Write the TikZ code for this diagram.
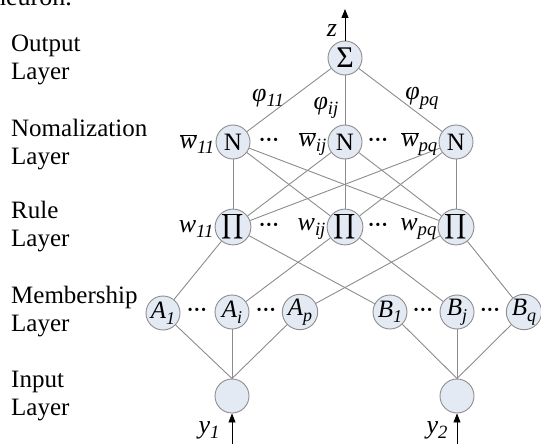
\documentclass[tikz,border=0pt]{standalone}
\usepackage{graphicx}
\usepackage{fontspec}
\setmainfont{Liberation Serif}
\usetikzlibrary{arrows.meta}
\definecolor{nodefill}{RGB}{228,234,244}
\definecolor{edgegray}{RGB}{140,140,140}
\newcommand{\sbs}[1]{\raisebox{-0.22em}{\scalebox{0.72}{\itshape #1}}}
\newcommand{\wbar}{\ensuremath{\overline{\hbox{\itshape w}}}}
\newcommand{\bigprod}{\raisebox{1.5pt}{\scalebox{1.75}{$\displaystyle\prod$}}}
\begin{document}
\begin{tikzpicture}[x=1pt,y=-1pt,
  neuron/.style={circle,draw=edgegray,fill=nodefill,minimum size=34pt,inner sep=0pt,line width=0.9pt},
  conn/.style={draw=edgegray,line width=0.9pt},
  layerlbl/.style={anchor=west,align=left,font=\fontsize{25}{28}\selectfont,inner sep=0pt},
  lbl/.style={font=\fontsize{26}{26}\selectfont\itshape,inner sep=0pt},
  inlbl/.style={font=\fontsize{25}{25}\selectfont\itshape,inner sep=0pt},
  dotsty/.style={font=\fontsize{20}{20}\selectfont\bfseries,inner sep=0pt},
  inarrow/.style={draw=black,line width=0.9pt,-{Triangle[length=9pt,width=7pt]}}]

\useasboundingbox (0,0) rectangle (541,444);
\clip (0,0) rectangle (541,444);

% fragment of surrounding text
\node[anchor=base east,font=\fontsize{26}{26}\selectfont,inner sep=0pt] (frag) at (72,6) {neuron.};

% layer labels
\node[layerlbl] (Lout) at (11,60) {Output\\Layer};
\node[layerlbl] (Lnorm) at (11,145) {Nomalization\\Layer};
\node[layerlbl] (Lrule) at (11,227) {Rule\\Layer};
\node[layerlbl] (Lmem) at (11,312) {Membership\\Layer};
\node[layerlbl] (Lin) at (11,396) {Input\\Layer};

% nodes
\node[neuron,font=\fontsize{30}{30}\selectfont] (S) at (345,58) {Σ};
\node[neuron,font=\fontsize{25}{25}\selectfont] (N1) at (233,142) {N};
\node[neuron,font=\fontsize{25}{25}\selectfont] (N2) at (345,142) {N};
\node[neuron,font=\fontsize{25}{25}\selectfont] (N3) at (456,142) {N};
\node[neuron] (P1) at (233,227) {\bigprod};
\node[neuron] (P2) at (345,227) {\bigprod};
\node[neuron] (P3) at (456,227) {\bigprod};
\node[neuron,inlbl] (A1) at (163,313) {A\sbs{1}};
\node[neuron,inlbl] (Ai) at (232,312) {A\sbs{i}};
\node[neuron,inlbl] (Ap) at (300,312) {A\sbs{p}};
\node[neuron,inlbl] (B1) at (390,312) {B\sbs{1}};
\node[neuron,inlbl] (Bj) at (457,312) {B\sbs{j}};
\node[neuron,inlbl] (Bq) at (524,312) {B\sbs{q}};
\node[neuron] (I1) at (232,396) {};
\node[neuron] (I2) at (457,396) {};

% free ends
\coordinate (ztip) at (345,9);
\coordinate (y1s) at (232,446);
\coordinate (y2s) at (457,446);

% connectors
\draw[conn] (S) -- (N1);
\draw[conn] (S) -- (N2);
\draw[conn] (S) -- (N3);
\foreach \n in {N1,N2,N3}{
  \foreach \p in {P1,P2,P3}{
    \draw[conn] (\n) -- (\p);
  }
}
\draw[conn] (P1) -- (A1);
\draw[conn] (P1) -- (B1);
\draw[conn] (P2) -- (Ai);
\draw[conn] (P2) -- (Bj);
\draw[conn] (P3) -- (Ap);
\draw[conn] (P3) -- (Bq);
\draw[conn] (A1) -- (I1.north);
\draw[conn] (Ai) -- (I1.north);
\draw[conn] (Ap) -- (I1.north);
\draw[conn] (B1) -- (I2.north);
\draw[conn] (Bj) -- (I2.north);
\draw[conn] (Bq) -- (I2.north);
\draw[inarrow] (S.north) -- (ztip);
\draw[inarrow] (y1s) -- (I1.south);
\draw[inarrow] (y2s) -- (I2.south);

% labels
\node[lbl] (zl) at (332,31) {z};
\node[lbl] (f11) at (268,98) {φ\sbs{11}};
\node[lbl] (fij) at (326,108) {φ\sbs{ij}};
\node[lbl] (fpq) at (422,98) {φ\sbs{pq}};
\node[lbl,anchor=east] (wb11) at ([xshift=-1pt,yshift=-2pt]N1.west) {\wbar\sbs{11}};
\node[lbl,anchor=east] (wbij) at ([xshift=-1pt,yshift=-2pt]N2.west) {\wbar\sbs{ij}};
\node[lbl,anchor=east] (wbpq) at ([xshift=-1pt,yshift=-2pt]N3.west) {\wbar\sbs{pq}};
\node[lbl,anchor=east] (w11) at ([xshift=-1pt,yshift=-2pt]P1.west) {w\sbs{11}};
\node[lbl,anchor=east] (wij) at ([xshift=-1pt,yshift=-2pt]P2.west) {w\sbs{ij}};
\node[lbl,anchor=east] (wpq) at ([xshift=-1pt,yshift=-2pt]P3.west) {w\sbs{pq}};
\node[lbl] (y1l) at (209,430) {y\sbs{1}};
\node[lbl] (y2l) at (437,430) {y\sbs{2}};

% dots
\node[dotsty] (dn1) at (269,142) {···};
\node[dotsty] (dn2) at (378,142) {···};
\node[dotsty] (dp1) at (269,227) {···};
\node[dotsty] (dp2) at (378,227) {···};
\node[dotsty] (da1) at (197,312) {···};
\node[dotsty] (da2) at (266,312) {···};
\node[dotsty] (db1) at (423,312) {···};
\node[dotsty] (db2) at (490,312) {···};
\end{tikzpicture}
\end{document}
